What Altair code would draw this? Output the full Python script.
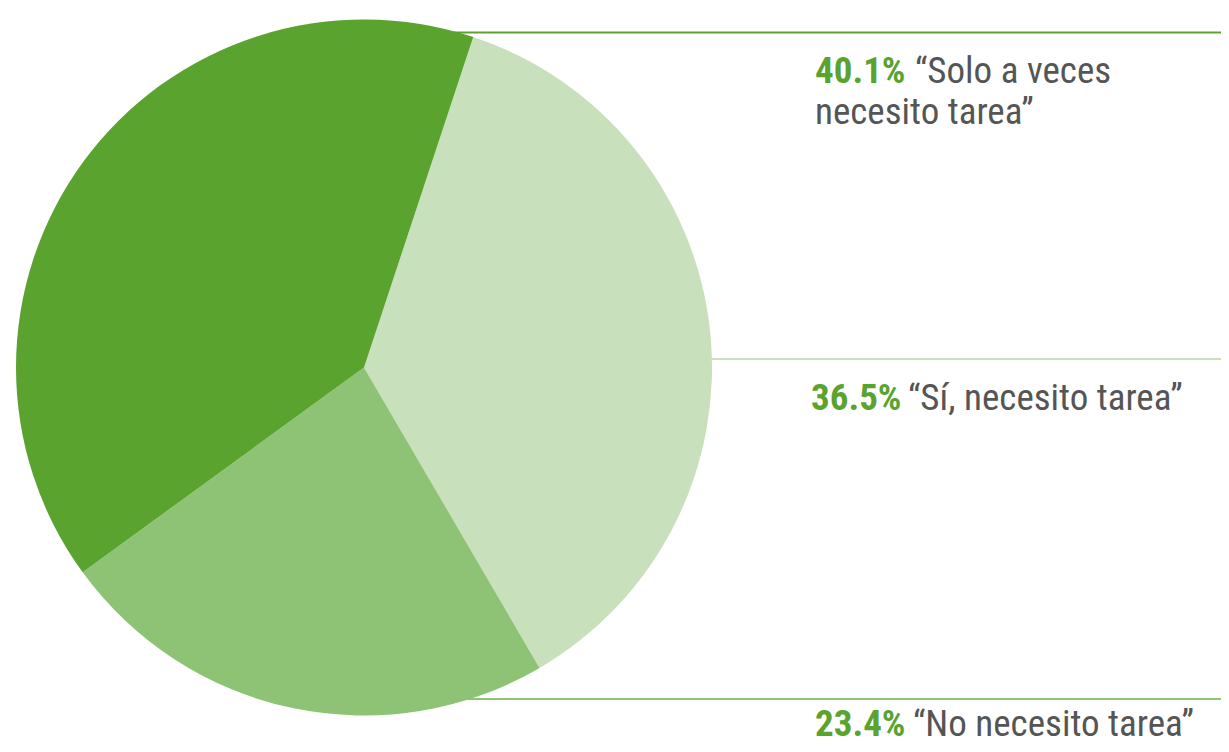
import altair as alt
import pandas as pd
import math

# ---- data ----
categories = ["Sí, necesito tarea", "No necesito tarea", "Solo a veces necesito tarea"]
values = [36.5, 23.4, 40.1]
slice_colors = ["#c8e0bb", "#8ec375", "#5aa32f"]

pct_labels = ["40.1%", "36.5%", "23.4%"]
quote_lines = ["“Solo a veces", "necesito tarea”", "“Sí, necesito tarea”", "“No necesito tarea”"]

# ---- layout (pixels in chart coords) ----
W, H = 1213, 736
CX, CY, R = 356, 359.5, 348
start = math.radians(18.3)

rule_y = [24.5, 351, 691]
rule_colors = ["#5aa32f", "#c8e0bb", "#8ec375"]
pct_x = [807, 803, 807]
pct_y = [75, 402, 728]
quote_x = [907, 807, 900, 905]
quote_y = [75, 116, 402, 728]

FONT = "Roboto Condensed, Liberation Sans Narrow, Roboto, sans-serif"
FS = 37

pie_df = pd.DataFrame({"cat": categories, "val": values, "order": [0, 1, 2]})
rules_df = pd.DataFrame({"y": rule_y, "x0": [CX] * 3, "x1": [W] * 3, "c": rule_colors})
pct_df = pd.DataFrame({"t": pct_labels, "x": pct_x, "y": pct_y})
quote_df = pd.DataFrame({"t": quote_lines, "x": quote_x, "y": quote_y})

rules = alt.Chart(rules_df).mark_rule(strokeWidth=2).encode(
    x=alt.X("x0:Q", scale=None),
    x2="x1:Q",
    y=alt.Y("y:Q", scale=None),
    color=alt.Color("c:N", scale=None),
)

pie = alt.Chart(pie_df).mark_arc(outerRadius=R, stroke=None).encode(
    theta=alt.Theta("val:Q", stack=True, scale=alt.Scale(range=[start, start + 2 * math.pi])),
    order=alt.Order("order:Q"),
    color=alt.Color("cat:N", scale=alt.Scale(domain=categories, range=slice_colors), legend=None),
    x=alt.value(CX),
    y=alt.value(CY),
)

pct = alt.Chart(pct_df).mark_text(
    align="left", baseline="alphabetic", font=FONT, fontSize=FS, fontWeight="bold", color="#5aa32f"
).encode(x=alt.X("x:Q", scale=None), y=alt.Y("y:Q", scale=None), text="t:N")

quotes = alt.Chart(quote_df).mark_text(
    align="left", baseline="alphabetic", font=FONT, fontSize=FS, color="#555555"
).encode(x=alt.X("x:Q", scale=None), y=alt.Y("y:Q", scale=None), text="t:N")

chart = alt.layer(rules, pie, pct, quotes).properties(
    width=W, height=H, padding=0, autosize=alt.AutoSizeParams(type="none")
).configure_view(stroke=None)

chart.save("out.html", embed_options={"renderer": "svg", "actions": False})
